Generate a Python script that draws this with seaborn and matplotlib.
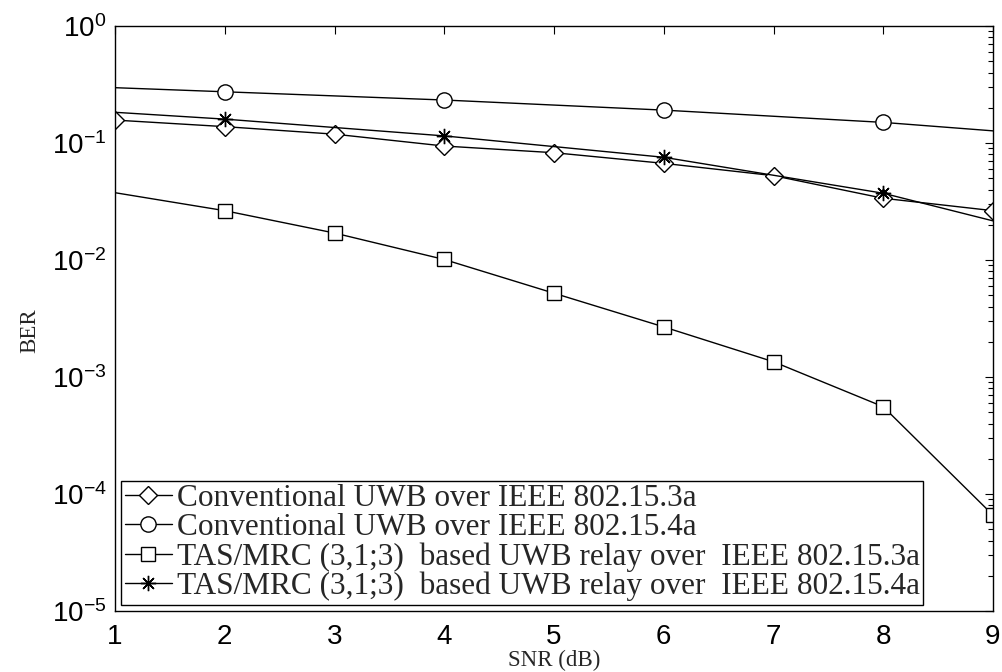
import matplotlib
matplotlib.use("Agg")
import matplotlib.pyplot as plt
import seaborn as sns
import pandas as pd
from matplotlib.lines import Line2D
from matplotlib.ticker import LogLocator, NullFormatter, FixedLocator

# SNR points (dB)
snr_all = [1, 2, 3, 4, 5, 6, 7, 8, 9]
snr_sparse = [1, 2, 4, 6, 8, 9]

# BER curves
ber_conv_153a = [0.157, 0.138, 0.119, 0.0942, 0.0826, 0.067, 0.0526, 0.0337, 0.0264]
ber_conv_154a = [0.297, 0.274, 0.233, 0.191, 0.150, 0.127]
ber_relay_153a = [0.0376, 0.0264, 0.0170, 0.0101, 0.0052, 0.00268, 0.00135, 0.000557, 0.000066]
ber_relay_154a = [0.183, 0.160, 0.115, 0.0755, 0.0372, 0.0216]

labels = [
    "Conventional UWB over IEEE 802.15.3a",
    "Conventional UWB over IEEE 802.15.4a",
    "TAS/MRC (3,1;3)  based UWB relay over  IEEE 802.15.3a",
    "TAS/MRC (3,1;3)  based UWB relay over  IEEE 802.15.4a",
]

x_ticks = [1, 2, 3, 4, 5, 6, 7, 8, 9]

sns.set_style("white")
plt.rcParams["font.family"] = ["Liberation Sans", "DejaVu Sans"]
plt.rcParams["mathtext.fontset"] = "custom"
plt.rcParams["mathtext.rm"] = "Liberation Sans"
plt.rcParams["mathtext.it"] = "Liberation Sans"
plt.rcParams["mathtext.default"] = "regular"

fig = plt.figure(figsize=(10.03, 6.72), dpi=100)
ax = fig.add_axes([115 / 1003, 1 - 611 / 672, 878 / 1003, 585 / 672])

asterisk = (8, 2, 0)
series = [
    (snr_all, ber_conv_153a, "D", 9.5, None),
    (snr_sparse, ber_conv_154a, "o", 11, [1, 2, 3, 4]),
    (snr_all, ber_relay_153a, "s", 9.5, list(range(1, 9))),
    (snr_sparse, ber_relay_154a, asterisk, 11, [1, 2, 3, 4]),
]

handles = []
for (xs, ys, mk, ms, every), lab in zip(series, labels):
    df = pd.DataFrame({"SNR": xs, "BER": ys})
    sns.lineplot(
        data=df, x="SNR", y="BER", ax=ax, color="black", linewidth=1.0,
        marker=mk, markersize=ms, markerfacecolor="white",
        markeredgecolor="black", markeredgewidth=1.0,
        markevery=every, estimator=None, sort=False, legend=False,
    )
    handles.append(Line2D([], [], color="black", linewidth=1.0, marker=mk,
                          markersize=ms, markerfacecolor="white",
                          markeredgecolor="black", markeredgewidth=1.0))

ax.set_yscale("log")
ax.set_xlim(1, 9)
ax.set_ylim(1e-5, 1)
ax.xaxis.set_major_locator(FixedLocator(x_ticks))
ax.yaxis.set_major_locator(LogLocator(base=10, numticks=10))
ax.yaxis.set_minor_locator(LogLocator(base=10, subs=range(2, 10), numticks=20))
ax.yaxis.set_minor_formatter(NullFormatter())

for side in ax.spines.values():
    side.set_color("black")
    side.set_linewidth(1.0)

ax.tick_params(axis="both", which="both", direction="in", top=True, right=True,
               colors="black", width=0.8)
ax.tick_params(axis="both", which="major", length=6, labelsize=20)
ax.tick_params(axis="y", which="minor", length=3.5)
ax.tick_params(axis="x", which="major", pad=9)
ax.tick_params(axis="y", which="major", pad=6)

ax.set_xlabel("SNR (dB)", family="Liberation Serif", fontsize=16.5)
ax.set_ylabel("BER", family="Liberation Serif", fontsize=16.5)
ax.xaxis.set_label_coords(0.5, -0.066)
ax.yaxis.set_label_coords(-0.085, 0.48)

leg = ax.legend(handles, labels, loc="lower left", bbox_to_anchor=(0, 0),
                prop={"family": "Liberation Serif", "size": 22.5},
                frameon=True, fancybox=False, shadow=False, framealpha=1,
                edgecolor="black", borderaxespad=0.2, borderpad=0.115,
                labelspacing=0.0, handlelength=1.5, handletextpad=0.16,
                numpoints=1)
leg.get_frame().set_linewidth(1.0)

fig.savefig("out.png", dpi=100, facecolor="white")
